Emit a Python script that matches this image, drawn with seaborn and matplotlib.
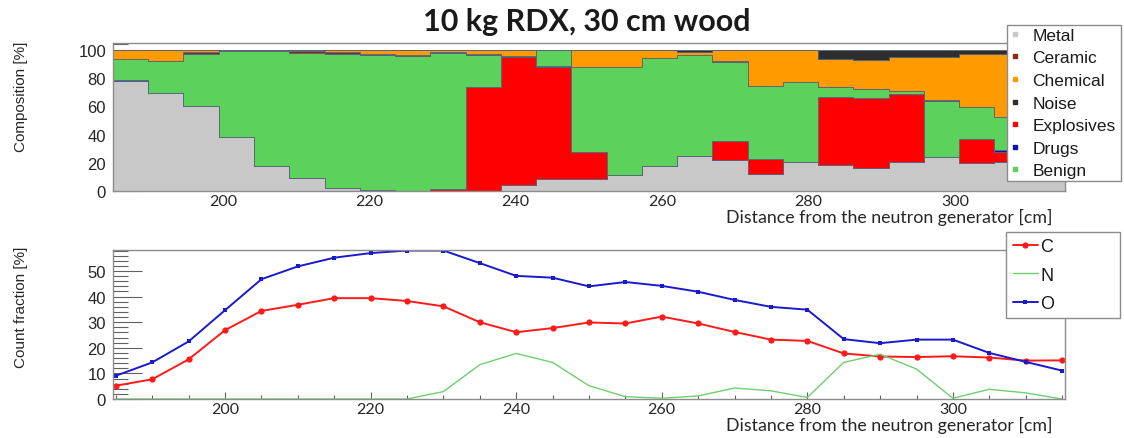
import numpy as np
import pandas as pd
import matplotlib
matplotlib.use('Agg')
import matplotlib.pyplot as plt
from matplotlib.lines import Line2D
from matplotlib.ticker import MultipleLocator
import seaborn as sns

## Data
# composition per step of the scan [%], 27 bins from 185 to 315 cm
metal      = [78.3, 69.6, 60.6, 38.2, 17.9, 9.4, 2.4, 0.5, 0, 0, 0, 4.0, 8.7, 8.3,
              11.6, 17.5, 24.5, 22.2, 11.8, 20.3, 18.2, 16.0, 20.5, 24.1, 19.8, 20.5, 22.0]
explosives = [0, 0, 0, 0, 0, 0, 0, 0, 0, 1.4, 73.6, 91.3, 79.5, 19.3,
              0, 0, 0, 13.2, 10.8, 0, 48.3, 50.0, 48.4, 0, 17.2, 7.1, 5.0]
drugs      = [0.3, 0, 0, 0, 0, 0, 0, 0, 0, 0, 0, 0, 0.5, 0,
              0, 0, 0, 0, 0, 0, 0, 0, 0, 0, 0, 1.5, 1.0]
benign     = [15.3, 22.9, 37.0, 61.3, 81.6, 88.9, 95.2, 96.0, 96.0, 96.5, 23.1, 0, 11.3, 60.6,
              76.6, 76.8, 72.2, 55.9, 51.9, 57.3, 7.6, 6.4, 2.3, 40.1, 22.4, 23.7, 20.0]
ceramic    = [0, 0, 0.9, 0, 0, 1.0, 0.8, 0.5, 0.5, 1.0, 0.8, 0.7, 0, 0,
              0, 0, 0, 0.7, 0, 0, 0, 0, 0, 0.5, 0, 0, 0]
chemical   = [6.1, 7.5, 1.5, 0.5, 0.5, 0.7, 1.6, 3.0, 3.5, 1.1, 2.5, 4.0, 0, 11.8,
              11.8, 5.7, 1.8, 8.0, 25.5, 22.4, 19.5, 20.5, 23.6, 30.1, 37.8, 44.4, 49.0]
noise      = [0, 0, 0, 0, 0, 0, 0, 0, 0, 0, 0, 0, 0, 0,
              0, 0, 1.5, 0, 0, 0, 6.4, 7.1, 5.2, 5.2, 2.8, 2.8, 3.0]

legend_order = ['Metal', 'Ceramic', 'Chemical', 'Noise', 'Explosives', 'Drugs', 'Benign']
# seaborn stacks the last hue level at the bottom
stack_order = ['Noise', 'Chemical', 'Ceramic', 'Benign', 'Drugs', 'Explosives', 'Metal']
comp_colors = {'Metal': '#c8c8c8', 'Ceramic': '#8b2a10', 'Chemical': '#ff9a00',
               'Noise': '#2e2e2e', 'Explosives': '#ff0000', 'Drugs': '#1010c0',
               'Benign': '#5cd25c'}

# count fractions [%] at each position
distance = list(range(185, 320, 5))
c_frac = [5.2, 7.7, 15.5, 26.9, 34.4, 36.8, 39.4, 39.4, 38.3, 36.2, 30.0, 26.1, 27.7, 29.9,
          29.5, 32.2, 29.5, 26.2, 23.2, 22.7, 17.8, 16.6, 16.4, 16.7, 16.2, 15.0, 15.1]
n_frac = [0, 0, 0, 0, 0, 0, 0, 0, 0, 2.9, 13.4, 17.8, 14.3, 5.2,
          0.9, 0.3, 1.2, 4.3, 3.2, 0.6, 14.3, 17.5, 11.7, 0.3, 3.8, 2.4, 0]
o_frac = [9.1, 14.3, 22.5, 34.7, 46.8, 51.8, 55.2, 57.0, 58.0, 58.0, 53.1, 48.1, 47.4, 44.0,
          45.7, 44.2, 41.9, 38.7, 36.0, 34.9, 23.4, 21.8, 23.2, 23.2, 18.0, 14.5, 11.1]

n_bins = len(metal)
bin_width = (315 - 185) / n_bins
centers = 185 + bin_width * (np.arange(n_bins) + 0.5)

series = {'Metal': metal, 'Explosives': explosives, 'Drugs': drugs, 'Benign': benign,
          'Ceramic': ceramic, 'Chemical': chemical, 'Noise': noise}
rows = []
for cat, vals in series.items():
    for x, v in zip(centers, vals):
        rows.append({'distance': x, 'percent': v, 'category': cat})
comp = pd.DataFrame(rows)

## Style
sns.set_theme(style='white')
plt.rcParams['font.family'] = ['Liberation Sans', 'DejaVu Sans']
plt.rcParams['text.color'] = '#1a1a1a'

fig = plt.figure(figsize=(11.24, 4.39), dpi=100)
ax1 = fig.add_axes([0.1005, 0.5626, 0.847, 0.337])
ax2 = fig.add_axes([0.1005, 0.0888, 0.847, 0.3394])

## Top: stacked composition
sns.histplot(data=comp, x='distance', weights='percent', hue='category',
             hue_order=stack_order, palette=comp_colors, multiple='stack',
             binwidth=bin_width, binrange=(185, 315), element='step', fill=True, alpha=1,
             linewidth=0.6, edgecolor='#56637a', legend=False, ax=ax1)
ax1.set_xlim(185, 315)
ax1.set_ylim(0, 105)
ax1.yaxis.set_major_locator(MultipleLocator(20))
ax1.yaxis.set_minor_locator(MultipleLocator(4))

## Bottom: count fractions
sns.lineplot(x=distance, y=c_frac, color='#ff1a1a', marker='o', markersize=4.5,
             markeredgewidth=0, linewidth=1.4, ax=ax2)
sns.lineplot(x=distance, y=n_frac, color='#6fcf6f', linewidth=1.0, ax=ax2)
sns.lineplot(x=distance, y=o_frac, color='#1a1acc', marker='s', markersize=3,
             markeredgewidth=0, linewidth=1.4, ax=ax2)
ax2.set_xlim(184.6, 315.4)
ax2.set_ylim(0, 58.2)
ax2.yaxis.set_major_locator(MultipleLocator(10))
ax2.yaxis.set_minor_locator(MultipleLocator(2))

for ax in (ax1, ax2):
    ax.xaxis.set_major_locator(MultipleLocator(20))
    ax.xaxis.set_minor_locator(MultipleLocator(5))
    ax.tick_params(axis='y', which='major', direction='in', length=21, width=0.8,
                   color='#606060', labelsize=12, pad=5, left=True)
    ax.tick_params(axis='y', which='minor', direction='in', length=11, width=0.8,
                   color='#606060', left=True)
    ax.tick_params(axis='x', which='major', direction='in', length=5, width=0.8,
                   color='#606060', labelsize=11.5, pad=2, bottom=True)
    ax.tick_params(axis='x', which='minor', direction='in', length=3, width=0.8,
                   color='#606060', bottom=True)
    plt.setp(ax.get_xticklabels(), family='Lato')
    for sp in ax.spines.values():
        sp.set_color('#8c8c8c')
        sp.set_linewidth(1.0)
    ax.set_xlabel('Distance from the neutron generator [cm]', fontsize=12.8,
                  family='Lato', ha='right', va='baseline')

ax1.xaxis.set_label_coords(0.987, -0.209)
ax2.xaxis.set_label_coords(0.987, -0.208)

# rotated labels: ha='right' puts the end of the text at the given point
ax1.set_ylabel('Composition [%]', fontsize=11, ha='right', va='center')
ax1.yaxis.set_label_coords(-0.0966, 1.016)
ax2.set_ylabel('Count fraction [%]', fontsize=11, ha='right', va='center')
ax2.yaxis.set_label_coords(-0.0966, 1.029)

## Title
fig.text(587 / 1124, 1 - 22 / 439, '10 kg RDX, 30 cm wood', ha='center', va='center',
         fontsize=22, fontweight='bold', family='Lato')

## Legends
comp_handles = [Line2D([], [], linestyle='none', marker='s', markersize=3.5,
                       color=comp_colors[c]) for c in legend_order]
leg1 = ax1.legend(comp_handles, legend_order, loc='upper left',
                  bbox_to_anchor=(1007 / 1124, 1 - 26 / 439, 114 / 1124, 0),
                  bbox_transform=fig.transFigure, mode='expand', fontsize=12.5,
                  labelspacing=0.43, handlelength=0.6, handletextpad=0.7,
                  borderpad=0.15, borderaxespad=0, fancybox=False, framealpha=1,
                  edgecolor='#8c8c8c')
leg1.get_frame().set_linewidth(1.0)
leg1.set_zorder(10)

line_handles = [Line2D([], [], color='#ff1a1a', marker='o', markersize=4.5, markeredgewidth=0, linewidth=1.4),
                Line2D([], [], color='#6fcf6f', linewidth=1.0),
                Line2D([], [], color='#1a1acc', marker='s', markersize=3, markeredgewidth=0, linewidth=1.4)]
leg2 = ax2.legend(line_handles, ['C', 'N', 'O'], loc='upper left',
                  bbox_to_anchor=(1006 / 1124, 1 - 233 / 439, 114 / 1124, 0),
                  bbox_transform=fig.transFigure, mode='expand', fontsize=13,
                  labelspacing=0.62, handlelength=1.4, handletextpad=0.15,
                  borderpad=0.36, borderaxespad=0, fancybox=False, framealpha=1,
                  edgecolor='#8c8c8c')
leg2.get_frame().set_linewidth(1.0)
leg2.set_zorder(10)

fig.savefig('out.png', dpi=100)
